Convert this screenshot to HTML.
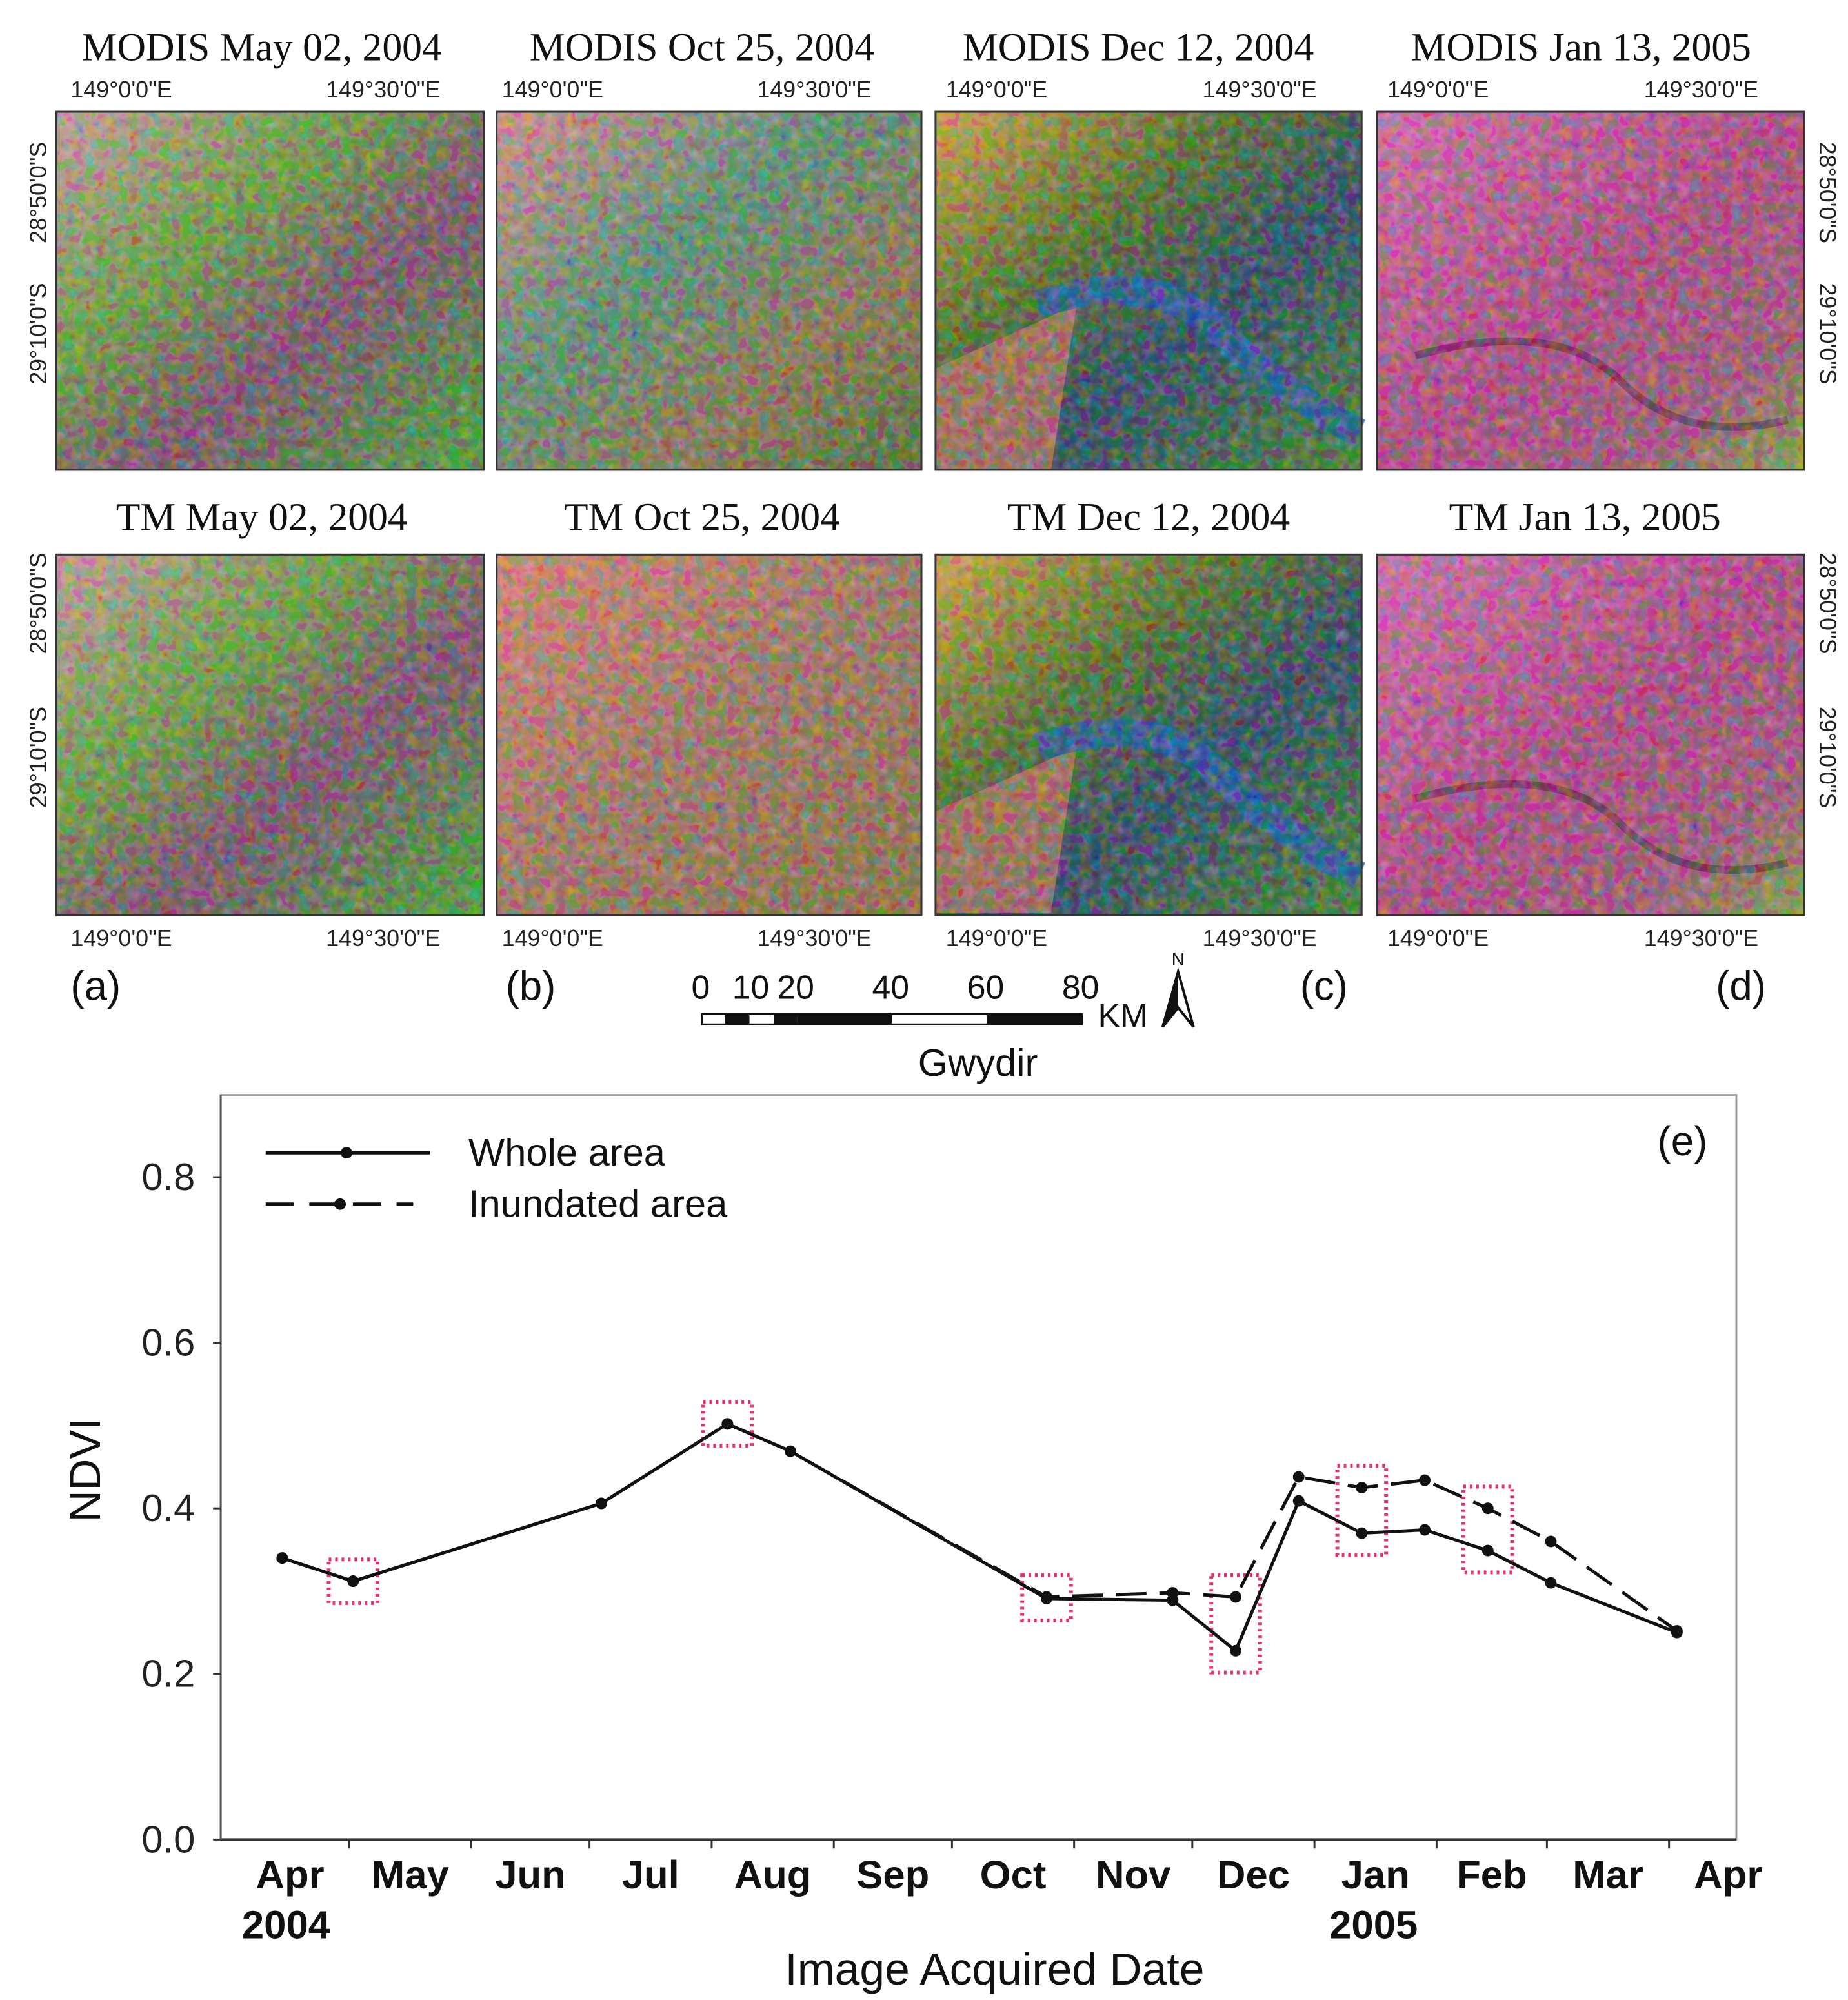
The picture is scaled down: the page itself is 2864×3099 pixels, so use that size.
<!DOCTYPE html>
<html><head><meta charset="utf-8"><style>
html,body{margin:0;padding:0;background:#fff;}
svg{display:block;}
.ser{font-family:"Liberation Serif",serif;}
.san{font-family:"Liberation Sans",sans-serif;}
</style></head><body>
<svg id="fig" width="2864" height="3099" viewBox="0 0 1440 1558" preserveAspectRatio="none" xmlns="http://www.w3.org/2000/svg">
<defs>
<filter id="noise" x="0" y="0" width="100%" height="100%">
<feTurbulence type="fractalNoise" baseFrequency="0.12" numOctaves="2" seed="3"/>
<feColorMatrix type="saturate" values="3.5"/>
<feComponentTransfer><feFuncR type="linear" slope="1.6" intercept="-0.3"/><feFuncG type="linear" slope="1.6" intercept="-0.3"/><feFuncB type="linear" slope="1.6" intercept="-0.3"/></feComponentTransfer>
</filter>
<linearGradient id="gA" x1="0" y1="0" x2="1" y2="1"><stop offset="0" stop-color="#c89a9a"/><stop offset="0.35" stop-color="#6a9a40"/><stop offset="0.6" stop-color="#7a4a68"/><stop offset="1" stop-color="#40a030"/></linearGradient>
<linearGradient id="gB" x1="0" y1="0" x2="1" y2="1"><stop offset="0" stop-color="#d88a8a"/><stop offset="0.4" stop-color="#5a8a70"/><stop offset="0.7" stop-color="#8a7050"/><stop offset="1" stop-color="#4a6a30"/></linearGradient>
<linearGradient id="gC" x1="0" y1="0" x2="1" y2="1"><stop offset="0" stop-color="#d0a040"/><stop offset="0.35" stop-color="#506a28"/><stop offset="0.6" stop-color="#2a4060"/><stop offset="1" stop-color="#407a30"/></linearGradient>
<linearGradient id="gD" x1="0" y1="0" x2="1" y2="1"><stop offset="0" stop-color="#d068a8"/><stop offset="0.5" stop-color="#b04080"/><stop offset="0.8" stop-color="#a05078"/><stop offset="1" stop-color="#80a040"/></linearGradient>
<linearGradient id="gBt" x1="0" y1="0" x2="1" y2="1"><stop offset="0" stop-color="#d88070"/><stop offset="0.5" stop-color="#a07060"/><stop offset="1" stop-color="#8a6a40"/></linearGradient>
</defs>

<g id="maps"></g>

<g class="ser" font-size="31" text-anchor="middle" fill="#111">
<text x="204" y="47">MODIS May 02, 2004</text>
<text x="547" y="47">MODIS Oct 25, 2004</text>
<text x="887" y="47">MODIS Dec 12, 2004</text>
<text x="1232" y="47">MODIS Jan 13, 2005</text>
<text x="204" y="413">TM May 02, 2004</text>
<text x="547" y="413">TM Oct 25, 2004</text>
<text x="895" y="413">TM Dec 12, 2004</text>
<text x="1235" y="413">TM Jan 13, 2005</text>
</g>
<g id="coords" class="san" font-size="18" fill="#222"></g>

<g class="san" font-size="32" fill="#111">
<text x="55" y="779">(a)</text>
<text x="394" y="779">(b)</text>
<text x="1013" y="779">(c)</text>
<text x="1337" y="779">(d)</text>
</g>
<g class="san" font-size="26" fill="#111" text-anchor="middle">
<text x="546" y="778">0</text><text x="585" y="778">10</text><text x="620" y="778">20</text><text x="694" y="778">40</text><text x="768" y="778">60</text><text x="842" y="778">80</text>
<rect x="547" y="790" width="296" height="8" fill="#fff" stroke="#111" stroke-width="1.5"/>
<rect x="565" y="790" width="19" height="8" fill="#111"/>
<rect x="603" y="790" width="18" height="8" fill="#111"/>
<rect x="621" y="790" width="74" height="8" fill="#111"/>
<rect x="769" y="790" width="74" height="8" fill="#111"/>
<text x="875" y="800">KM</text>
<text x="918" y="752" font-size="14">N</text>
<path d="M918 757 L906 800 L918 785 L930 800 Z" fill="#fff" stroke="#111" stroke-width="2"/>
<path d="M918 757 L906 800 L918 785 Z" fill="#111"/>
<text x="762" y="838" font-size="30">Gwydir</text>
</g>

<g id="chart" class="san"></g>
</svg>

<script>
// ---- chart data ----
const months = ["Apr","May","Jun","Jul","Aug","Sep","Oct","Nov","Dec","Jan","Feb","Mar","Apr"];
const monthStartDays = [0,30,61,91,122,153,183,214,244,275,306,334,365];
const yTicks = [0.0,0.2,0.4,0.6,0.8];
const yTickLabels = ["0.0","0.2","0.4","0.6","0.8"];
const obsDays = [13,31,94,126,142,207,239,255,271,287,303,319,335,367];
const wholeArea = [0.340,0.312,0.406,0.502,0.469,0.291,0.289,0.228,0.409,0.370,0.374,0.349,0.310,0.250];
const inundatedArea = [0.340,0.312,0.406,0.502,0.469,0.293,0.298,0.293,0.438,0.425,0.434,0.400,0.360,0.252];
const highlightIdx = [1,3,5,7,9,11];

const NS="http://www.w3.org/2000/svg";
function mk(tag,attrs,parent){const e=document.createElementNS(NS,tag);for(const k in attrs)e.setAttribute(k,attrs[k]);parent.appendChild(e);return e;}

// ---- maps ----
const maps=document.getElementById('maps');
const cols=[[44,377],[387,718],[729,1061],[1073,1406]];
const rows=[[87,366],[432,713]];
const fills=[["gA","gB","gC","gD"],["gA","gBt","gC","gD"]];
rows.forEach((r,ri)=>cols.forEach((c,ci)=>{
  const g=mk('g',{},maps);
  
  
  mk('rect',{x:c[0],y:r[0],width:c[1]-c[0],height:r[1]-r[0],fill:'url(#'+fills[ri][ci]+')'},g);
  if(ci===2){
    mk('path',{d:`M${c[0]} ${r[0]+200} L${c[0]+110} ${r[0]+150} L${c[0]+90} ${r[0]+279} L${c[0]} ${r[0]+279} Z`,fill:'#c87060',opacity:0.7},g);
    mk('path',{d:`M${c[0]+80} ${r[0]+150} Q${c[0]+170} ${r[0]+120} ${c[0]+220} ${r[0]+170} T${c[0]+330} ${r[0]+250}`,stroke:'#1a50b0',"stroke-width":22,fill:'none',opacity:0.7},g);
  }
  if(ci===3){
    mk('path',{d:`M${c[0]+30} ${r[0]+190} Q${c[0]+140} ${r[0]+160} ${c[0]+190} ${r[0]+210} T${c[0]+320} ${r[0]+240}`,stroke:'#3a1030',"stroke-width":6,fill:'none',opacity:0.5},g);
  }
  mk('rect',{x:c[0],y:r[0],width:c[1]-c[0],height:r[1]-r[0],filter:'url(#noise)',opacity:0.45},g);
  mk('rect',{x:c[0],y:r[0],width:c[1]-c[0],height:r[1]-r[0],fill:'none',stroke:'#333',"stroke-width":1.5},g);
}));
const coords=document.getElementById('coords');
const lonTop=[[55,254],[391,590],[737,937],[1081,1281]];
lonTop.forEach((p,i)=>{
  [["149°0'0\"E",p[0],76],["149°30'0\"E",p[1],76],["149°0'0\"E",p[0],737],["149°30'0\"E",p[1],737]].forEach(t=>{
    const e=mk('text',{x:t[1],y:t[2]},coords);e.textContent=t[0];
    
    
  });
});
[[150,"28°50'0\"S"],[260,"29°10'0\"S"],[470,"28°50'0\"S"],[590,"29°10'0\"S"]].forEach(t=>{
  const e=mk('text',{x:36,y:t[0],transform:`rotate(-90 36 ${t[0]})`,"text-anchor":"middle"},coords);e.textContent=t[1];
  
  
  const e2=mk('text',{x:1418,y:t[0],transform:`rotate(90 1418 ${t[0]})`,"text-anchor":"middle"},coords);e2.textContent=t[1];
  
  
});

// ---- chart ----
const ch=document.getElementById('chart');
const L=172,R=1353,T=853,B=1433;
const xs=d=>180+3.07*d;
const ys=v=>B-v*645;
const frame=mk('rect',{x:L,y:T,width:R-L,height:B-T,fill:'none',stroke:'#999',"stroke-width":1.5},ch);


mk('line',{x1:L,y1:B,x2:R,y2:B,stroke:'#333',"stroke-width":2},ch);
mk('line',{x1:L,y1:T,x2:L,y2:B,stroke:'#555',"stroke-width":1.5},ch);
yTicks.forEach((v,i)=>{
  mk('line',{x1:L-6,y1:ys(v),x2:L,y2:ys(v),stroke:'#333',"stroke-width":1.5},ch);
  const t=mk('text',{x:L-20,y:ys(v)+10,"text-anchor":"end","font-size":30,fill:'#222'},ch);
  t.textContent=yTickLabels[i];
  
  
});
monthStartDays.forEach((d,i)=>{
  if(i>0) mk('line',{x1:xs(d),y1:B,x2:xs(d),y2:B+7,stroke:'#333',"stroke-width":1.5},ch);
  const mid=i<12?(d+monthStartDays[i+1])/2:d+15;
  const t=mk('text',{x:xs(mid),y:B+38,"text-anchor":"middle","font-size":31,"font-weight":"bold",fill:'#111'},ch);
  t.textContent=months[i];
  
  
});
[["2004",xs(14)],["2005",xs(290)]].forEach(y=>{
  const t=mk('text',{x:y[1],y:B+77,"text-anchor":"middle","font-size":31,"font-weight":"bold",fill:'#111'},ch);
  t.textContent=y[0];
  
  
});
const xt=mk('text',{x:775,y:1546,"text-anchor":"middle","font-size":35,fill:'#111'},ch);
xt.textContent="Image Acquired Date";


const yt=mk('text',{x:78,y:1145,"text-anchor":"middle","font-size":34,fill:'#111',transform:'rotate(-90 78 1145)'},ch);
yt.textContent="NDVI";


const pe=mk('text',{x:1311,y:900,"text-anchor":"middle","font-size":32,fill:'#111'},ch);
pe.textContent="(e)";



highlightIdx.forEach(i=>{
  const x=xs(obsDays[i]);
  const hi=Math.max(wholeArea[i],inundatedArea[i]),lo=Math.min(wholeArea[i],inundatedArea[i]);
  const r=mk('rect',{x:x-19,y:ys(hi)-17,width:38,height:ys(lo)-ys(hi)+34,fill:'none',stroke:'#e8306a',"stroke-width":3,"stroke-dasharray":"2 3"},ch);
  
  
});
function series(vals,dash,name){
  const pts=vals.map((v,i)=>xs(obsDays[i])+','+ys(v)).join(' ');
  const p=mk('polyline',{points:pts,fill:'none',stroke:'#111',"stroke-width":2.5,"stroke-dasharray":dash},ch);
  
  
  vals.forEach((v,i)=>{
    const c=mk('circle',{cx:xs(obsDays[i]),cy:ys(v),r:4.5,fill:'#111'},ch);
    
    
  });
}
series(inundatedArea,"24 10","inundated-area");
series(wholeArea,"none","whole-area");

const lg=mk('g',{},ch);


mk('line',{x1:207,y1:898,x2:335,y2:898,stroke:'#111',"stroke-width":2.5},lg);
mk('circle',{cx:270,cy:898,r:4.5,fill:'#111'},lg);
mk('line',{x1:207,y1:938,x2:322,y2:938,stroke:'#111',"stroke-width":2.5,"stroke-dasharray":"22 12"},lg);
mk('circle',{cx:265,cy:938,r:4.5,fill:'#111'},lg);
const l1=mk('text',{x:365,y:908,"font-size":30,fill:'#111'},lg);l1.textContent="Whole area";


const l2=mk('text',{x:365,y:948,"font-size":30,fill:'#111'},lg);l2.textContent="Inundated area";


</script>
</body></html>
